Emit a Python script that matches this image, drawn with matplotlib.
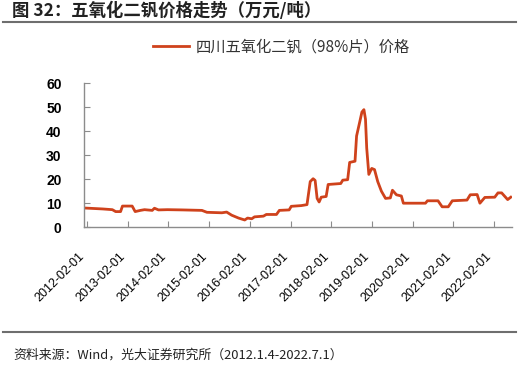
import matplotlib.pyplot as plt
import pandas as pd
from matplotlib import rcParams

rcParams['font.family'] = ['Noto Sans CJK SC', 'DejaVu Sans']
rcParams['axes.unicode_minus'] = False

# 四川五氧化二钒（98%片）价格，万元/吨
dates = ['2012-01-04', '2012-06-20', '2012-09-15', '2012-10-15', '2012-11-28', '2012-12-15',
         '2013-03-12', '2013-04-08', '2013-05-25', '2013-07-01', '2013-09-08', '2013-09-28',
         '2013-11-03', '2014-01-22', '2014-06-02', '2014-11-28', '2015-01-12', '2015-05-26',
         '2015-07-08', '2015-08-22', '2015-10-23', '2015-12-17', '2016-01-12', '2016-02-18',
         '2016-03-14', '2016-06-02', '2016-06-28', '2016-09-27', '2016-10-23', '2017-01-19',
         '2017-02-07', '2017-05-08', '2017-06-28', '2017-07-27', '2017-08-22', '2017-09-09',
         '2017-09-27', '2017-10-15', '2017-11-03', '2017-12-17', '2018-01-04', '2018-04-27',
         '2018-05-15', '2018-06-28', '2018-07-16', '2018-09-02', '2018-09-16', '2018-10-15',
         '2018-11-03', '2018-11-21', '2018-12-05', '2018-12-16', '2019-01-04', '2019-01-30',
         '2019-02-24', '2019-03-25', '2019-04-27', '2019-06-03', '2019-07-16', '2019-08-04',
         '2019-09-09', '2019-10-23', '2019-11-10', '2020-05-26', '2020-06-13', '2020-09-16',
         '2020-10-23', '2020-12-17', '2021-01-22', '2021-06-03', '2021-07-02', '2021-09-02',
         '2021-09-27', '2021-11-10', '2022-02-07', '2022-03-08', '2022-04-10', '2022-06-03',
         '2022-07-01']
prices = [8.0, 7.6, 7.3, 6.5, 6.5, 8.8,
          8.8, 6.5, 7.0, 7.3, 7.0, 7.9,
          7.2, 7.3, 7.2, 7.0, 6.2, 6.0,
          6.3, 5.0, 3.8, 3.0, 3.8, 3.5,
          4.3, 4.6, 5.3, 5.3, 7.0, 7.2,
          8.7, 9.0, 9.4, 19.0, 20.2, 19.5,
          12.0, 10.5, 12.5, 12.8, 17.8, 18.2,
          19.6, 19.8, 27.0, 27.5, 38.0, 44.0,
          48.0, 49.0, 45.0, 33.0, 22.0, 24.5,
          24.0, 19.0, 15.0, 12.0, 12.2, 15.4,
          13.5, 13.0, 10.0, 10.0, 11.0, 11.0,
          8.5, 8.5, 11.0, 11.3, 13.5, 13.6,
          10.0, 12.4, 12.5, 14.3, 14.3, 11.5,
          12.5]
tick_dates = ['2012-02-01', '2013-02-01', '2014-02-01', '2015-02-01', '2016-02-01', '2017-02-01',
              '2018-02-01', '2019-02-01', '2020-02-01', '2021-02-01', '2022-02-01']
y_ticks = [0, 10, 20, 30, 40, 50, 60]

x = pd.to_datetime(dates)
xt = pd.to_datetime(tick_dates)

fig = plt.figure(figsize=(5.18, 3.70), dpi=100)
ax = fig.add_axes([0.162, 0.386, 0.826, 0.389])

line_color = '#CF421C'
ax.plot(x, prices, color=line_color, linewidth=2.0, label='四川五氧化二钒（98%片）价格')

ax.set_xlim(pd.Timestamp('2012-01-04'), pd.Timestamp('2022-07-10'))
ax.set_ylim(0, 60)
ax.set_yticks(y_ticks)
ax.set_xticks(xt)
ax.set_xticklabels(tick_dates, rotation=45, ha='right',
                   fontsize=9, family=['Liberation Sans', 'DejaVu Sans'])
for lab in ax.get_yticklabels():
    lab.set_fontfamily(['Liberation Sans', 'DejaVu Sans'])
    lab.set_fontweight('bold')
    lab.set_fontsize(10)

for s in ['top', 'right']:
    ax.spines[s].set_visible(False)
for s in ['left', 'bottom']:
    ax.spines[s].set_color('#8C8C8C')
    ax.spines[s].set_linewidth(1.0)
ax.tick_params(axis='y', direction='in', length=4, color='#8C8C8C', pad=16)
ax.tick_params(axis='x', direction='in', length=4, color='#8C8C8C', pad=17)

# 图例
leg = fig.legend(loc='center', bbox_to_anchor=(0.543, 0.873), frameon=False,
                 fontsize=11, handlelength=2.4, handletextpad=0.4)
for t in leg.get_texts():
    t.set_color('#333333')

# 标题与分隔线
fig.text(0.023, 0.972, '图 32：五氧化二钒价格走势（万元/吨）', fontsize=12.5,
         fontweight='bold', va='center', ha='left', color='#222222')
fig.add_artist(plt.Line2D([0.006, 0.996], [0.940, 0.940], color='#6E6E6E', linewidth=1.5))
fig.add_artist(plt.Line2D([0.006, 0.996], [0.104, 0.104], color='#6E6E6E', linewidth=1.5))
fig.text(0.025, 0.040, '资料来源：Wind，光大证券研究所（2012.1.4-2022.7.1）', fontsize=9.3,
         va='center', ha='left', color='#222222')

plt.savefig('out.png', dpi=100, facecolor='white')
plt.close()
